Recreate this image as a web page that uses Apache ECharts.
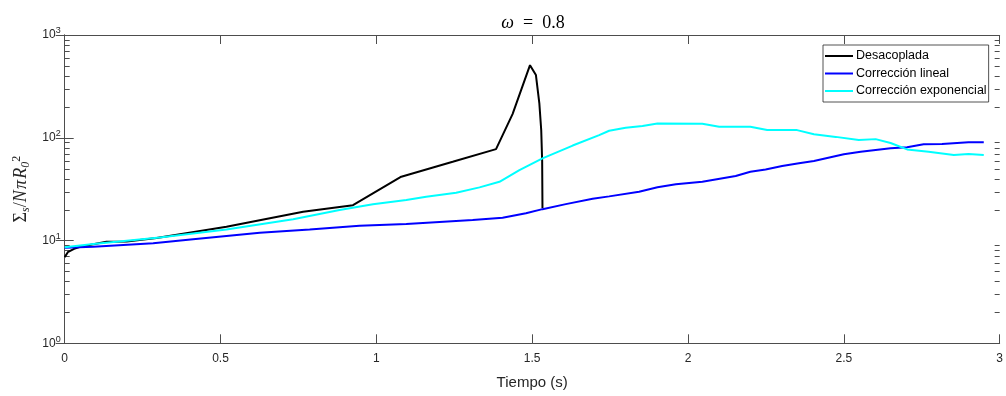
<!DOCTYPE html>
<html>
<head>
<meta charset="utf-8">
<script src="https://cdn.jsdelivr.net/npm/echarts@6/dist/echarts.min.js"></script>
<style>
html,body{margin:0;padding:0;background:#fff;}
#chart{width:1006px;height:396px;}
</style>
</head>
<body>
<div id="chart"></div>
<script>
// ---- data ----
var seriesNames = ['Desacoplada', 'Corrección lineal', 'Corrección exponencial'];

var tDesacoplada = [0, 0.01, 0.03, 0.05, 0.134, 0.199, 0.295, 0.519, 0.765, 0.925, 1.08, 1.245, 1.384, 1.437, 1.493, 1.512, 1.523, 1.529, 1.532, 1.533];
var vDesacoplada = [6.9, 7.7, 8.3, 8.7, 9.73, 9.8, 10.6, 13.6, 19.1, 22.1, 41.8, 58.4, 77.6, 170, 509, 408, 216, 119, 60, 20.6];

var tLineal = [0, 0.092, 0.284, 0.412, 0.626, 0.786, 0.946, 1.096, 1.309, 1.405, 1.48, 1.533, 1.608, 1.694, 1.747, 1.843, 1.902, 1.961, 2.046, 2.153, 2.20, 2.249, 2.302, 2.356, 2.404, 2.50, 2.554, 2.602, 2.65, 2.703, 2.756, 2.815, 2.9, 2.949];
var vLineal = [8.5, 8.7, 9.4, 10.3, 11.9, 12.8, 13.9, 14.5, 15.8, 16.7, 18.4, 20.2, 22.6, 25.5, 26.9, 29.8, 33, 35.3, 37.3, 42.4, 46.7, 49.2, 53, 56.4, 59.3, 69, 73, 76, 79, 80.7, 86.3, 87, 90.2, 90.2];

var tExponencial = [0, 0.092, 0.305, 0.519, 0.733, 0.882, 0.989, 1.096, 1.16, 1.256, 1.331, 1.395, 1.459, 1.533, 1.63, 1.715, 1.747, 1.80, 1.854, 1.902, 2.046, 2.10, 2.20, 2.254, 2.35, 2.404, 2.474, 2.548, 2.602, 2.65, 2.703, 2.772, 2.853, 2.9, 2.949];
var vExponencial = [8.6, 9.25, 10.7, 12.8, 16.1, 19.8, 22.6, 24.8, 26.7, 29.2, 32.9, 37.3, 48.5, 63, 84, 106, 117, 125, 130, 138, 137, 128, 128, 119, 118.7, 108, 102, 95, 97, 89, 77, 73, 68, 69.4, 68];

var yMinorTicks = [2,3,4,5,6,7,8,9,20,30,40,50,60,70,80,90,200,300,400,500,600,700,800,900];

function pairs(t, v) { return t.map(function (x, i) { return [x, v[i]]; }); }

var axisColor = '#4d4d4d';
var textColor = '#262626';
var serif = 'Liberation Serif, DejaVu Serif, serif';
var sans = 'Liberation Sans, Arial, sans-serif';

var chart = echarts.init(document.getElementById('chart'), null, {renderer: 'canvas'});

var option = {
  animation: false,
  backgroundColor: '#fff',
  title: {
    text: '{i|ω}{u|  =  0.8}',
    left: 528,
    textAlign: 'center',
    top: 9,
    textStyle: {
      fontFamily: serif, fontSize: 18, fontWeight: 'normal', color: '#000',
      rich: {
        i: { fontFamily: serif, fontStyle: 'italic', fontSize: 18, color: '#000' },
        u: { fontFamily: serif, fontSize: 18, color: '#000' }
      }
    }
  },
  grid: { left: 64.7, right: 5, top: 35, bottom: 52.7, containLabel: false },
  legend: {
    data: seriesNames.map(function (n) { return { name: n, icon: 'rect' }; }),
    orient: 'vertical',
    left: 823, top: 45,
    itemWidth: 28, itemHeight: 2, itemGap: 3.5,
    padding: [4, 2, 4, 2],
    borderColor: '#262626', borderWidth: 0.8,
    backgroundColor: '#fff',
    textStyle: { fontFamily: sans, fontSize: 12.5, color: '#000', padding: [0, 0, 0, -2], lineHeight: 14 }
  },
  xAxis: [{
    type: 'value', min: 0, max: 3, interval: 0.5, position: 'bottom',
    name: 'Tiempo (s)', nameLocation: 'middle', nameGap: 32,
    nameTextStyle: { fontFamily: sans, fontSize: 15, color: textColor },
    axisLine: { lineStyle: { color: axisColor, width: 1 } },
    axisTick: { inside: true, length: 9, lineStyle: { color: axisColor } },
    axisLabel: { margin: 9, fontFamily: sans, fontSize: 12, color: textColor,
      formatter: function (v) { return String(v); } },
    splitLine: { show: false }
  }, {
    type: 'value', min: 0, max: 3, interval: 0.5, position: 'top',
    axisLine: { show: true, lineStyle: { color: axisColor, width: 1 } },
    axisTick: { show: true, inside: true, length: 9, lineStyle: { color: axisColor } },
    axisLabel: { show: false }, splitLine: { show: false }
  }],
  yAxis: [{
    type: 'log', logBase: 10, min: 1, max: 1000, position: 'left',
    name: '{u|Σ}{s|s}{u|/}{i|N}{g| }{i|π}{g| }{i|R}{s|0}{p|2}',
    nameLocation: 'middle', nameGap: 33, nameRotate: 90,
    nameTextStyle: {
      fontFamily: serif, fontSize: 18, color: textColor,
      rich: {
        u: { fontFamily: serif, fontSize: 18, color: textColor },
        g: { fontFamily: serif, fontSize: 5, color: textColor },
        i: { fontFamily: serif, fontStyle: 'italic', fontSize: 18, color: textColor },
        s: { fontFamily: serif, fontStyle: 'italic', fontSize: 12, color: textColor, verticalAlign: 'bottom', padding: [9, 0, 0, 0] },
        p: { fontFamily: serif, fontSize: 12, color: textColor, verticalAlign: 'top', padding: [0, 0, 9, 0] }
      }
    },
    axisLine: { show: true, lineStyle: { color: axisColor, width: 1 } },
    axisTick: { inside: true, length: 9, lineStyle: { color: axisColor } },
    axisLabel: {
      margin: 4, color: textColor,
      formatter: function (v) { return '{b|10}{e|' + Math.round(Math.log10(v)) + '}'; },
      rich: {
        b: { fontFamily: sans, fontSize: 12, color: textColor },
        e: { fontFamily: sans, fontSize: 9, color: textColor, verticalAlign: 'top', padding: [0, 0, 8, 0] }
      }
    },
    splitLine: { show: false }
  }, {
    type: 'log', logBase: 10, min: 1, max: 1000, position: 'right',
    axisLine: { show: true, lineStyle: { color: axisColor, width: 1 } },
    axisTick: { show: true, inside: true, length: 9, lineStyle: { color: axisColor } },
    axisLabel: { show: false }, splitLine: { show: false }
  }],
  series: [{
    name: seriesNames[0], type: 'line', data: pairs(tDesacoplada, vDesacoplada),
    symbol: 'none', showSymbol: false, lineStyle: { color: '#000000', width: 2 }, itemStyle: { color: '#000000' }
  }, {
    name: seriesNames[1], type: 'line', data: pairs(tLineal, vLineal),
    symbol: 'none', showSymbol: false, lineStyle: { color: '#0000ff', width: 2 }, itemStyle: { color: '#0000ff' }
  }, {
    name: seriesNames[2], type: 'line', data: pairs(tExponencial, vExponencial),
    symbol: 'none', showSymbol: false, lineStyle: { color: '#00ffff', width: 2 }, itemStyle: { color: '#00ffff' }
  }, {
    name: 'minorTicks', type: 'custom', silent: true, clip: false,
    data: yMinorTicks.map(function (v) { return [0, v]; }),
    renderItem: function (params, api) {
      var p = api.coord([0, api.value(1)]);
      var cs = params.coordSys;
      var y = Math.round(p[1]) + 0.5;
      return {
        type: 'group',
        children: [
          { type: 'line', shape: { x1: cs.x, y1: y, x2: cs.x + 5, y2: y }, style: { stroke: axisColor, lineWidth: 1 } },
          { type: 'line', shape: { x1: cs.x + cs.width - 5, y1: y, x2: cs.x + cs.width, y2: y }, style: { stroke: axisColor, lineWidth: 1 } }
        ]
      };
    }
  }]
};
chart.setOption(option);
</script>
</body>
</html>
